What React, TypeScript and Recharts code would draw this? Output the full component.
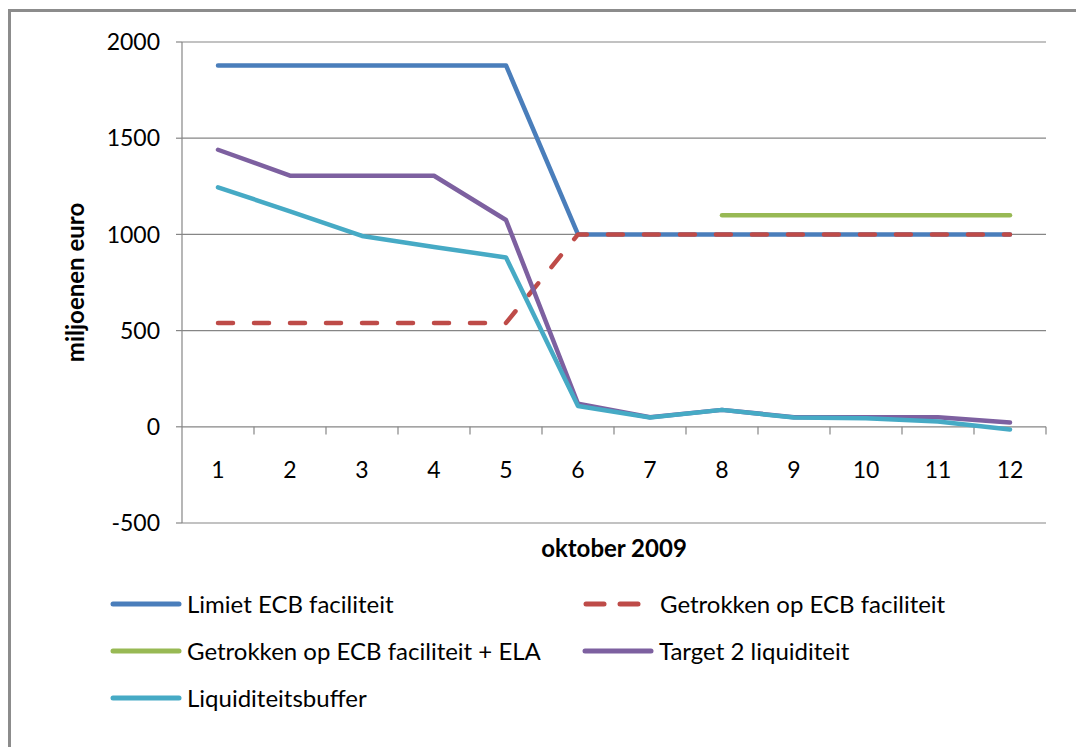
import React from "react";
import {
  LineChart,
  Line,
  XAxis,
  YAxis,
  CartesianGrid,
  Legend,
  ReferenceLine,
} from "recharts";

const days = [1, 2, 3, 4, 5, 6, 7, 8, 9, 10, 11, 12];
const limiet = [1878, 1878, 1878, 1878, 1878, 1000, 1000, 1000, 1000, 1000, 1000, 1000];
const getrokken = [540, 540, 540, 540, 540, 1000, 1000, 1000, 1000, 1000, 1000, 1000];
const getrokkenEla = [null, null, null, null, null, null, null, 1100, 1100, 1100, 1100, 1100];
const target2 = [1440, 1305, 1305, 1305, 1075, 120, 50, 88, 50, 50, 50, 22];
const buffer = [1245, 1120, 992, 935, 880, 108, 48, 88, 48, 45, 28, -14];
const yTicks = [-500, 0, 500, 1000, 1500, 2000];

const seriesDefs = [
  { key: "limiet", name: "Limiet ECB faciliteit", color: "#4A7EBB", dash: undefined as string | undefined },
  { key: "getrokken", name: "Getrokken op ECB faciliteit", color: "#BE4B48", dash: "15 21" },
  { key: "ela", name: "Getrokken op ECB faciliteit + ELA", color: "#98B954", dash: undefined },
  { key: "target2", name: "Target 2 liquiditeit", color: "#7D60A0", dash: undefined },
  { key: "buffer", name: "Liquiditeitsbuffer", color: "#46AAC5", dash: undefined },
];

const data = days.map((d, i) => ({
  day: d,
  limiet: limiet[i],
  getrokken: getrokken[i],
  ela: getrokkenEla[i],
  target2: target2[i],
  buffer: buffer[i],
}));

const FONT = "Lato, 'Liberation Sans', sans-serif";
const GRID = "#868686";

const XTick = (props: any) => {
  const { x, y, payload } = props;
  return (
    <text
      x={x}
      y={y - 53}
      dy="0.35em"
      textAnchor="middle"
      fontFamily={FONT}
      fontSize={23}
      fill="#000"
    >
      {payload.value}
    </text>
  );
};

const LegendContent = () => {
  const order = [0, 1, 2, 3, 4];
  return (
    <div
      style={{
        position: "relative",
        width: 1076,
        height: 150,
        fontFamily: FONT,
        fontSize: 24,
        color: "#000",
      }}
    >
      {order.map((idx, n) => {
        const s = seriesDefs[idx];
        const col = n % 2;
        const row = Math.floor(n / 2);
        return (
          <div
            key={s.key}
            style={{
              position: "absolute",
              left: col === 0 ? 110 : 582,
              top: row * 47,
              height: 47,
              display: "flex",
              alignItems: "center",
              whiteSpace: "nowrap",
            }}
          >
            <svg width={72} height={10} style={{ display: "block" }}>
              {s.dash ? (
                <>
                  <line x1={4} y1={5} x2={22} y2={5} stroke={s.color} strokeWidth={5} strokeLinecap="round" />
                  <line x1={38} y1={5} x2={56} y2={5} stroke={s.color} strokeWidth={5} strokeLinecap="round" />
                </>
              ) : (
                <line x1={3} y1={5} x2={69} y2={5} stroke={s.color} strokeWidth={5} strokeLinecap="round" />
              )}
            </svg>
            <span style={{ marginLeft: s.dash ? 6 : 5 }}>{s.name}</span>
          </div>
        );
      })}
    </div>
  );
};

export default function App() {
  return (
    <div style={{ position: "absolute", left: 0, top: 0, width: 1076, height: 747, background: "#fff", overflow: "hidden" }}>
      <div
        style={{
          position: "absolute",
          left: 8,
          top: 9,
          width: 1080,
          height: 750,
          borderLeft: "3px solid #8c8c8c",
          borderTop: "3px solid #8c8c8c",
        }}
      />
      <div style={{ position: "absolute", left: 0, top: 0 }}>
        <LineChart
          width={1076}
          height={747}
          data={data}
          margin={{ top: 42, right: 30, left: 0, bottom: 174 }}
        >
          <CartesianGrid vertical={false} stroke={GRID} strokeWidth={1.2} />
          <XAxis
            dataKey="day"
            type="number"
            domain={[0.5, 12.5]}
            ticks={days}
            allowDataOverflow
            axisLine={false}
            tickLine={false}
            tickSize={0}
            tickMargin={0}
            height={50}
            interval={0}
            tick={<XTick />}
            label={{
              value: "oktober 2009",
              position: "center",
              fontFamily: FONT,
              fontSize: 24,
              fontWeight: "bold",
              fill: "#000",
            }}
          />
          <YAxis
            type="number"
            domain={[-500, 2000]}
            ticks={yTicks}
            width={182}
            axisLine={{ stroke: GRID, strokeWidth: 1.2 }}
            tickLine={{ stroke: GRID, strokeWidth: 1.2 }}
            tickSize={6}
            tickMargin={16}
            tick={{ fontFamily: FONT, fontSize: 23, fill: "#000" }}
            label={{
              value: "miljoenen euro",
              angle: -90,
              position: "insideLeft",
              offset: 75,
              fontFamily: FONT,
              fontSize: 24,
              fontWeight: "bold",
              fill: "#000",
              style: { textAnchor: "middle" },
            }}
          />
          {days.map((d) => (
            <ReferenceLine
              key={"t" + d}
              segment={[
                { x: d + 0.5, y: 0 },
                { x: d + 0.5, y: -40 },
              ]}
              stroke={GRID}
              strokeWidth={1.2}
              ifOverflow="visible"
            />
          ))}
          {seriesDefs.map((s) => (
            <Line
              key={s.key}
              dataKey={s.key}
              name={s.name}
              type="linear"
              stroke={s.color}
              strokeWidth={4.5}
              strokeDasharray={s.dash}
              strokeLinecap="round"
              strokeLinejoin="round"
              dot={false}
              activeDot={false}
              connectNulls={false}
              isAnimationActive={false}
            />
          ))}
          <Legend
            layout="horizontal"
            verticalAlign="middle"
            align="center"
            content={<LegendContent />}
            wrapperStyle={{ top: 580, left: 0, width: 1076, height: 150 }}
          />
        </LineChart>
      </div>
    </div>
  );
}
